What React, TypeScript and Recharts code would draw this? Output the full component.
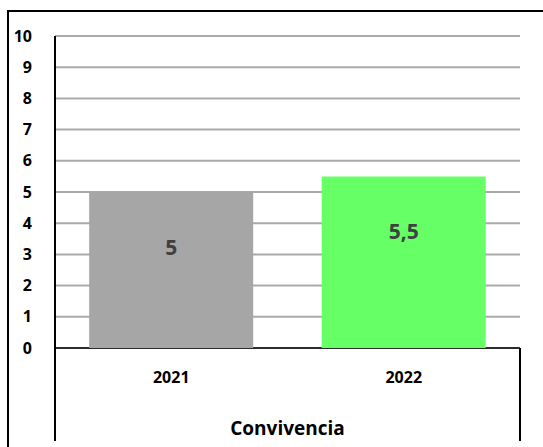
import React from "react";
import { BarChart, Bar, XAxis, YAxis, CartesianGrid, Cell, LabelList, usePlotArea } from "recharts";

const categories = ["2021", "2022"];
const values = [5, 5.5];
const valueLabels = ["5", "5,5"];
const barColors = ["#a6a6a6", "#66ff66"];
const yTicks = [0, 1, 2, 3, 4, 5, 6, 7, 8, 9, 10];
const groupLabel = "Convivencia";

const data = categories.map((c, i) => ({ name: c, value: values[i], label: valueLabels[i] }));

const FONT = "'Open Sans', sans-serif";

const AxisFrame = () => {
  const area = usePlotArea();
  if (!area) return null;
  const bottom = 441;
  const left = area.x;
  const right = area.x + area.width;
  const axisY = area.y + area.height;
  return (
    <g>
      <line x1={left} y1={area.y} x2={left} y2={bottom} stroke="#000" strokeWidth={2} />
      <line x1={right} y1={axisY} x2={right} y2={bottom} stroke="#000" strokeWidth={2} />
      <line x1={left} y1={axisY} x2={right} y2={axisY} stroke="#000" strokeWidth={1.5} />
    </g>
  );
};

const ValueLabel = (props: any) => {
  const { x, y, width, value } = props;
  return (
    <text
      x={x + width / 2}
      y={y + 55}
      textAnchor="middle"
      dominantBaseline="central"
      fontFamily={FONT}
      fontWeight={700}
      fontSize={21}
      fill="#404040"
    >
      {value}
    </text>
  );
};

export default function App() {
  return (
    <div style={{ position: "absolute", left: 0, top: 0, width: 543, height: 447, overflow: "hidden", background: "#fff" }}>
      <div
        style={{
          position: "absolute",
          left: 7,
          top: 10,
          width: 600,
          height: 500,
          borderTop: "2px solid #000",
          borderLeft: "2px solid #000",
        }}
      />
      <div style={{ position: "absolute", left: 0, top: 0 }}>
        <BarChart
          width={543}
          height={447}
          data={data}
          margin={{ top: 36, right: 23, left: 0, bottom: 0 }}
          barCategoryGap="14.7%"
        >
          <CartesianGrid horizontal vertical={false} stroke="#aaaaaa" strokeWidth={2} />
          <XAxis
            dataKey="name"
            axisLine={false}
            tickLine={false}
            tickSize={0}
            tickMargin={24}
            height={99}
            tick={{ fontFamily: FONT, fontWeight: 700, fontSize: 16, fill: "#000" }}
            label={{
              value: groupLabel,
              position: "insideBottom",
              offset: 12,
              style: { fontFamily: FONT, fontWeight: 700, fontSize: 19, fill: "#000" },
            }}
          />
          <YAxis
            domain={[0, 10]}
            ticks={yTicks}
            interval={0}
            width={55}
            axisLine={false}
            tickLine={false}
            tickSize={0}
            tickMargin={23}
            tick={{ fontFamily: FONT, fontWeight: 700, fontSize: 16, fill: "#000" }}
          />
          <Bar dataKey="value" isAnimationActive={false}>
            {data.map((d, i) => (
              <Cell key={d.name} fill={barColors[i]} />
            ))}
            <LabelList dataKey="label" content={<ValueLabel />} />
          </Bar>
          <AxisFrame />
        </BarChart>
      </div>
    </div>
  );
}
